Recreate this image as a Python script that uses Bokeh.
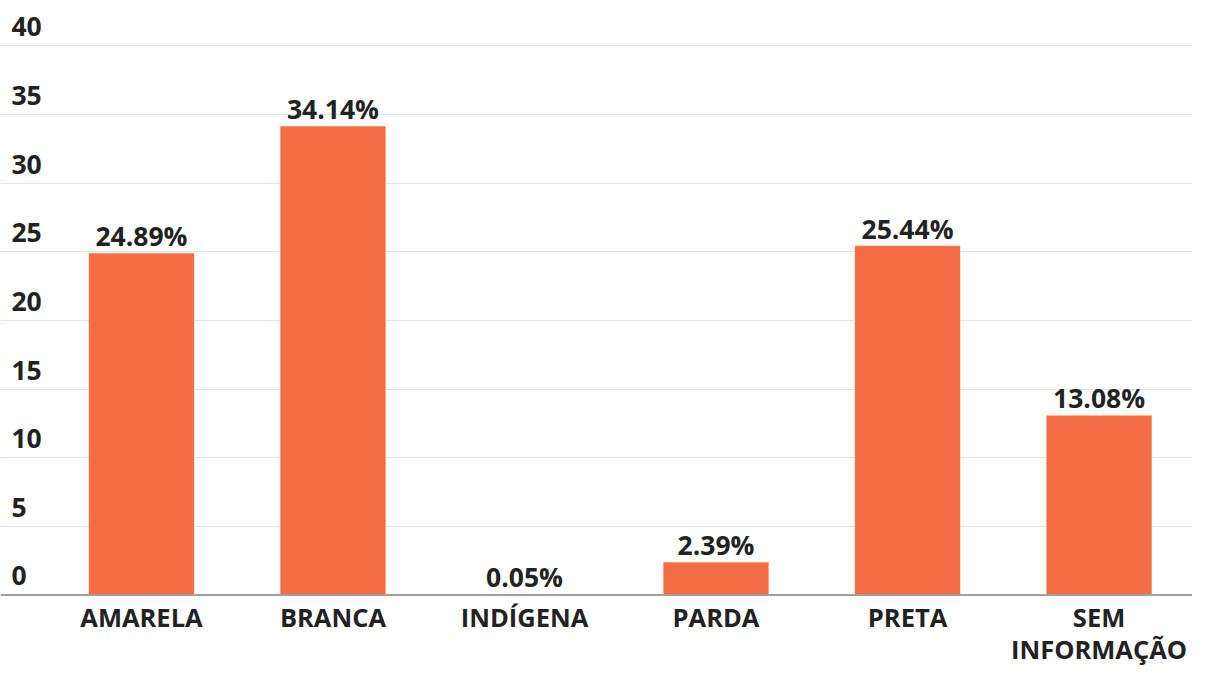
from bokeh.plotting import figure
from bokeh.models import ColumnDataSource, FixedTicker, Grid, Range1d, Span
from bokeh.core.properties import value
from bokeh.embed import file_html
from bokeh.resources import INLINE

categories = ["AMARELA", "BRANCA", "INDÍGENA", "PARDA", "PRETA", "SEM\nINFORMAÇÃO"]
values = [24.89, 34.14, 0.05, 2.39, 25.44, 13.08]
y_ticks = [0, 5, 10, 15, 20, 25, 30, 35, 40]

xs = list(range(len(categories)))
labels = [f"{v:.2f}%" for v in values]

FONT = "Open Sans"
BAR = "#F36F43"
TXT = "#222222"
X0 = -0.679
FS = "26.5px"

p = figure(width=1192, height=670, output_backend="svg", toolbar_location=None,
           x_range=Range1d(-0.736, 5.488), y_range=Range1d(-5.5, 43.3),
           x_axis_type=None, y_axis_type=None,
           min_border_left=0, min_border_right=0,
           min_border_top=0, min_border_bottom=0)
p.outline_line_color = None
p.background_fill_color = "white"
p.border_fill_color = "white"

grid = Grid(dimension=1, ticker=FixedTicker(ticks=y_ticks[1:]),
            grid_line_color="#e3e3e3", grid_line_width=1)
p.add_layout(grid)

src = ColumnDataSource(dict(x=xs, top=values, label=labels))
p.vbar(x="x", top="top", width=0.55, bottom=0, source=src,
       fill_color=BAR, line_color=None)
p.text(x="x", y="top", text="label", source=src, text_align="center",
       text_baseline="alphabetic", y_offset=-17, text_font=value(FONT),
       text_font_style="bold", text_font_size=FS, text_color=TXT)

# baseline axis line
p.add_layout(Span(location=0, dimension="width", line_color="#a0a0a0",
                  line_width=2))

# y labels above gridlines
ysrc = ColumnDataSource(dict(x=[X0] * len(y_ticks), y=y_ticks,
                             t=[str(t) for t in y_ticks]))
p.text(x="x", y="y", text="t", source=ysrc, text_align="left",
       text_baseline="alphabetic", y_offset=-19,
       text_font=value(FONT), text_font_style="bold", text_font_size=FS,
       text_color=TXT)

# category labels below the axis line
csrc = ColumnDataSource(dict(x=xs, y=[0] * len(xs), t=categories))
p.text(x="x", y="y", text="t", source=csrc, text_align="center",
       text_baseline="top", y_offset=5, text_line_height=0.95,
       text_font=value(FONT), text_font_style="bold", text_font_size="25.5px",
       text_color=TXT)

open("out.html", "w").write(file_html(p, INLINE))
